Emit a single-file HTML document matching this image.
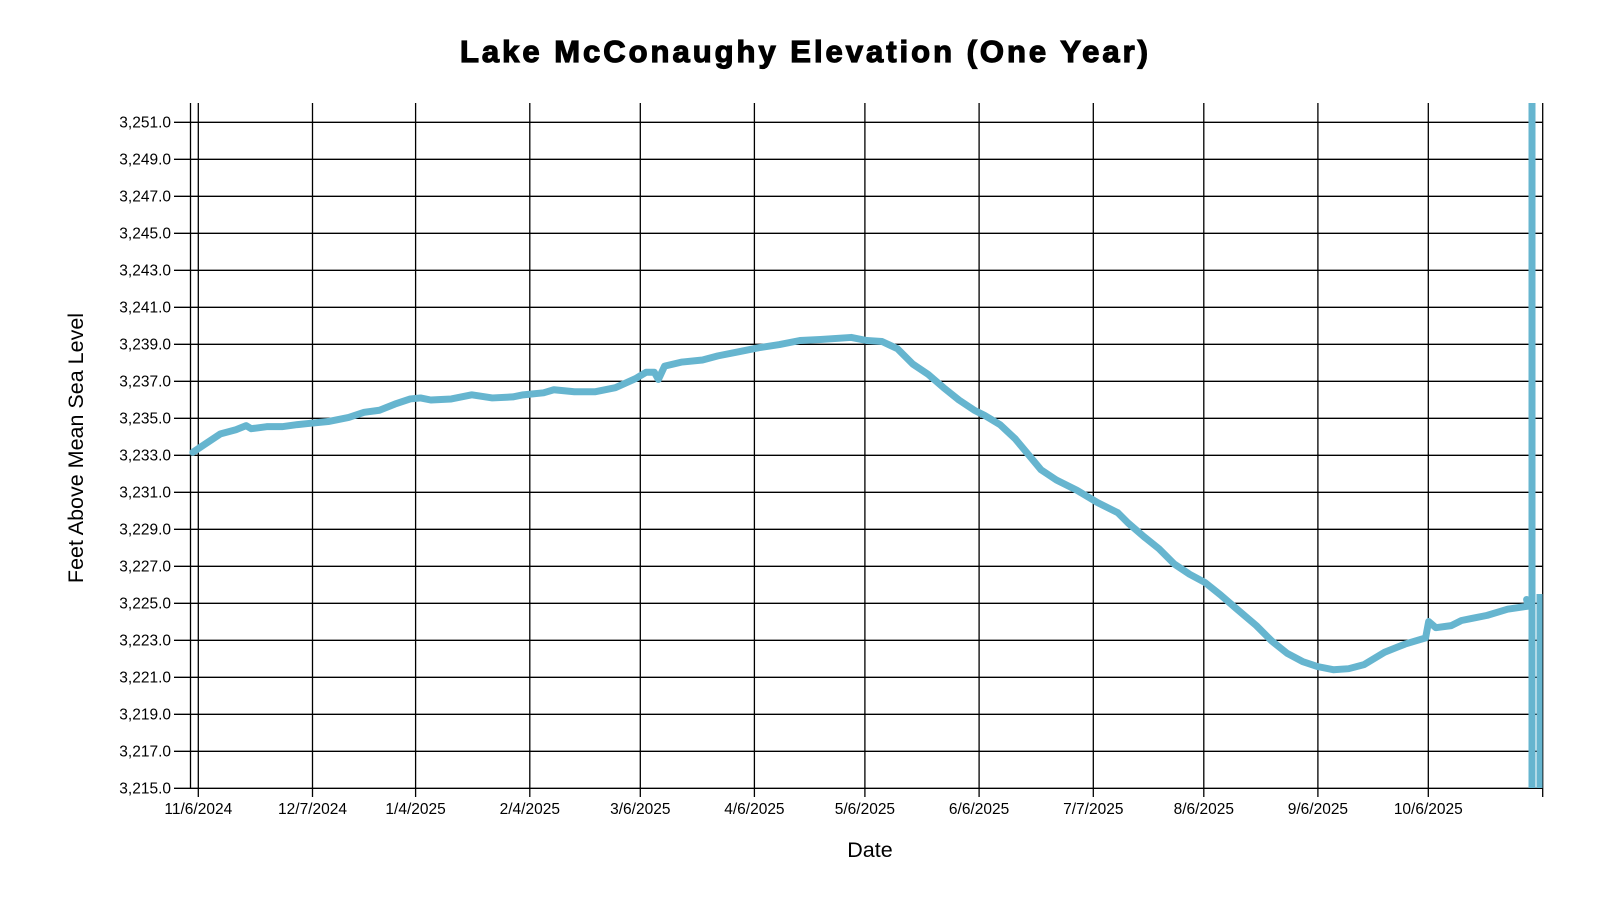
<!DOCTYPE html>
<html><head><meta charset="utf-8"><style>
html,body{margin:0;padding:0;background:#fff;}
svg{display:block;font-family:"Liberation Sans",Arial,sans-serif;}
</style></head><body>
<svg width="1600" height="900" viewBox="0 0 1600 900" xmlns="http://www.w3.org/2000/svg">
<text x="804" y="62" text-anchor="middle" font-size="31" font-weight="bold" stroke="#000" stroke-width="1.2" textLength="688" lengthAdjust="spacing">Lake McConaughy Elevation (One Year)</text>
<g stroke="#000" stroke-width="1.3" fill="none">
<line x1="174" y1="122.3" x2="1543" y2="122.3"/>
<line x1="174" y1="159.3" x2="1543" y2="159.3"/>
<line x1="174" y1="196.3" x2="1543" y2="196.3"/>
<line x1="174" y1="233.3" x2="1543" y2="233.3"/>
<line x1="174" y1="270.3" x2="1543" y2="270.3"/>
<line x1="174" y1="307.3" x2="1543" y2="307.3"/>
<line x1="174" y1="344.3" x2="1543" y2="344.3"/>
<line x1="174" y1="381.3" x2="1543" y2="381.3"/>
<line x1="174" y1="418.3" x2="1543" y2="418.3"/>
<line x1="174" y1="455.3" x2="1543" y2="455.3"/>
<line x1="174" y1="492.3" x2="1543" y2="492.3"/>
<line x1="174" y1="529.3" x2="1543" y2="529.3"/>
<line x1="174" y1="566.3" x2="1543" y2="566.3"/>
<line x1="174" y1="603.3" x2="1543" y2="603.3"/>
<line x1="174" y1="640.3" x2="1543" y2="640.3"/>
<line x1="174" y1="677.3" x2="1543" y2="677.3"/>
<line x1="174" y1="714.3" x2="1543" y2="714.3"/>
<line x1="174" y1="751.3" x2="1543" y2="751.3"/>
<line x1="174" y1="788.3" x2="1543" y2="788.3"/>
<line x1="190.5" y1="103" x2="190.5" y2="788.3"/>
<line x1="1542.7" y1="103" x2="1542.7" y2="797"/>
<line x1="198.3" y1="103" x2="198.3" y2="797"/>
<line x1="312.5" y1="103" x2="312.5" y2="797"/>
<line x1="415.6" y1="103" x2="415.6" y2="797"/>
<line x1="529.8" y1="103" x2="529.8" y2="797"/>
<line x1="640.3" y1="103" x2="640.3" y2="797"/>
<line x1="754.4" y1="103" x2="754.4" y2="797"/>
<line x1="864.9" y1="103" x2="864.9" y2="797"/>
<line x1="979.1" y1="103" x2="979.1" y2="797"/>
<line x1="1093.3" y1="103" x2="1093.3" y2="797"/>
<line x1="1203.8" y1="103" x2="1203.8" y2="797"/>
<line x1="1317.9" y1="103" x2="1317.9" y2="797"/>
<line x1="1428.3" y1="103" x2="1428.3" y2="797"/>
</g>
<g font-size="15.5" text-anchor="end" fill="#000">
<text x="171" y="127.5">3,251.0</text><text x="171" y="164.5">3,249.0</text><text x="171" y="201.5">3,247.0</text>
<text x="171" y="238.5">3,245.0</text><text x="171" y="275.5">3,243.0</text><text x="171" y="312.5">3,241.0</text>
<text x="171" y="349.5">3,239.0</text><text x="171" y="386.5">3,237.0</text><text x="171" y="423.5">3,235.0</text>
<text x="171" y="460.5">3,233.0</text><text x="171" y="497.5">3,231.0</text><text x="171" y="534.5">3,229.0</text>
<text x="171" y="571.5">3,227.0</text><text x="171" y="608.5">3,225.0</text><text x="171" y="645.5">3,223.0</text>
<text x="171" y="682.5">3,221.0</text><text x="171" y="719.5">3,219.0</text><text x="171" y="756.5">3,217.0</text>
<text x="171" y="793.5">3,215.0</text>
</g>
<g font-size="15.5" text-anchor="middle" fill="#000">
<text x="198.3" y="814">11/6/2024</text><text x="312.5" y="814">12/7/2024</text><text x="415.6" y="814">1/4/2025</text>
<text x="529.8" y="814">2/4/2025</text><text x="640.3" y="814">3/6/2025</text><text x="754.4" y="814">4/6/2025</text>
<text x="864.9" y="814">5/6/2025</text><text x="979.1" y="814">6/6/2025</text><text x="1093.3" y="814">7/7/2025</text>
<text x="1203.8" y="814">8/6/2025</text><text x="1317.9" y="814">9/6/2025</text><text x="1428.3" y="814">10/6/2025</text>
</g>
<text x="870" y="857" text-anchor="middle" font-size="21.5">Date</text>
<text transform="translate(83,448) rotate(-90)" text-anchor="middle" font-size="21.5">Feet Above Mean Sea Level</text>
<g transform="scale(1.0256)">
<polyline fill="none" stroke="#66b5cf" stroke-width="6.8" stroke-linejoin="round" stroke-linecap="round" points="188,441 200,433 215,423 230,419 240,415 245,418 260,416 275,416 290,414 300,413 320,411 340,407 355,402 370,400 385,394 400,389 410,388 420,390 440,389 460,385 480,388 500,387 510,385 530,383 540,380 560,382 580,382 600,378 620,369 630,363 638,363 642,370 648,357 665,353 685,351 700,347 720,343 740,339 760,336 780,332 800,331 830,329 845,332 860,333 875,340 890,355 905,365 920,378 935,390 950,400 960,405 975,414 990,428 1000,440 1015,458 1030,468 1050,478 1070,490 1090,500 1100,510 1115,523 1130,535 1145,550 1160,560 1175,568 1190,580 1205,593 1225,610 1240,625 1255,637 1270,645 1285,650 1300,653 1315,652 1330,648 1350,636 1370,628 1390,622 1393,606 1400,612 1415,610 1425,605 1435,603 1450,600 1470,594 1490,591 1488.5,584.5"/>
</g>
<line x1="1532" y1="103" x2="1532" y2="788" stroke="#66b5cf" stroke-width="7"/>
<line x1="1539.5" y1="594" x2="1539.5" y2="788" stroke="#66b5cf" stroke-width="6"/>
</svg>
</body></html>
